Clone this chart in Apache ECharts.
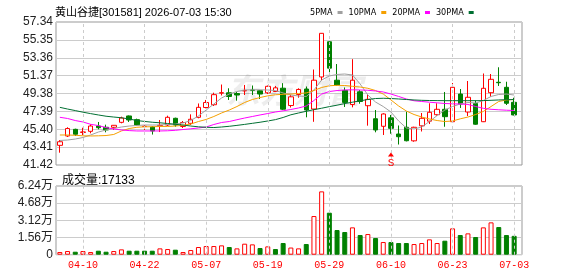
<!DOCTYPE html>
<html lang="zh-CN" style="height: 100%">
<head>
  <meta charset="utf-8">
</head>
<body style="height: 100%; margin: 0">
  <div id="container" style="width: 578px; height: 276px"></div>

  <script type="text/javascript" src="https://cdn.jsdelivr.net/npm/echarts@6.0.0/dist/echarts.min.js"></script>

  <script>
    // 日K数据 (黄山谷捷 301581)
    var dates = ['04-07','04-08','04-09','04-10','04-13','04-14','04-15','04-16','04-17','04-20',
      '04-21','04-22','04-23','04-24','04-27','04-28','04-29','04-30','05-06','05-07',
      '05-08','05-11','05-12','05-13','05-14','05-15','05-18','05-19','05-20','05-21',
      '05-22','05-25','05-26','05-27','05-28','05-29','06-01','06-02','06-03','06-04',
      '06-05','06-08','06-09','06-10','06-11','06-12','06-15','06-16','06-17','06-18',
      '06-22','06-23','06-24','06-25','06-26','06-29','06-30','07-01','07-02','07-03'];

    var openP = [43.61,44.65,45.39,45.05,45.17,45.76,45.62,45.62,46.17,46.88,
      46.47,45.70,45.65,45.80,45.87,46.62,45.71,46.06,46.73,47.82,
      48.13,49.42,49.46,49.38,49.67,49.76,49.69,49.46,49.60,49.97,
      48.04,49.27,49.88,47.65,51.22,55.14,50.86,49.72,48.15,49.57,
      48.02,46.57,45.73,46.67,44.87,45.62,44.11,45.78,46.30,47.02,
      47.62,46.24,49.32,47.32,48.26,46.24,49.47,50.63,50.07,48.40];
    var closeP = [44.01,45.48,44.84,45.10,45.76,45.57,45.32,45.84,46.65,46.43,
      45.88,45.74,45.21,45.84,46.73,45.87,46.15,46.51,47.84,48.38,
      49.25,49.47,49.05,49.21,49.72,49.73,49.32,50.18,50.01,47.63,
      49.01,49.83,47.54,50.86,56.08,52.20,50.33,48.39,50.86,48.49,
      48.73,45.32,47.10,45.50,44.57,44.12,45.62,46.62,47.29,47.62,
      46.80,50.07,48.21,48.96,45.96,49.96,50.96,50.58,48.29,46.99];
    var lowP = [42.79,44.54,44.65,44.76,44.95,45.39,45.06,45.32,46.06,46.21,
      45.80,45.32,44.81,45.09,45.76,45.68,45.54,45.87,46.62,47.73,
      47.99,49.16,48.66,48.58,49.21,49.21,48.77,49.32,49.55,47.54,
      47.82,48.91,46.73,46.23,50.83,51.46,50.25,47.88,47.84,48.24,
      45.80,45.06,44.76,44.90,43.70,44.05,44.01,45.15,45.98,46.90,
      45.68,46.20,47.77,46.87,45.90,46.20,49.02,50.22,48.10,46.95];
    var highP = [44.20,45.62,45.46,45.57,45.95,46.21,45.91,45.87,46.80,46.93,
      46.58,45.87,45.73,46.43,46.91,46.69,46.32,47.06,48.27,48.66,
      49.47,50.38,49.96,49.55,50.33,50.27,49.77,50.27,50.22,50.53,
      49.23,49.96,50.16,52.05,56.10,55.17,52.66,50.05,53.20,49.77,
      49.21,47.54,47.18,46.99,45.82,47.35,45.68,47.21,48.29,48.29,
      49.55,50.55,49.88,50.77,48.62,51.61,51.55,52.30,50.69,48.91];

    var volumes = [2420,3330,2720,3330,2420,3630,2720,3330,4840,3630,
      3630,3630,3630,5750,5140,4540,2420,4240,6970,7870,
      7870,8480,6970,5750,9990,9390,6060,7570,5140,10600,
      6500,5750,9690,35120,57520,38150,22400,20590,24830,17860,
      18770,15140,11500,11500,10600,10600,9690,10600,13930,10600,
      12720,23920,17860,19380,16050,24830,29370,25130,17860,17133];

    var ma5 = [44.15,44.20,44.31,44.48,44.76,45.09,45.32,45.48,45.65,45.76,
      45.82,45.87,45.87,45.87,45.93,45.98,46.10,46.37,46.88,47.54,
      48.21,48.88,49.32,49.60,49.77,49.79,49.79,49.77,49.71,49.44,
      49.21,49.10,49.05,49.77,50.88,51.33,51.50,51.55,51.44,50.44,
      49.21,48.43,47.93,47.32,46.32,45.54,45.43,45.65,46.26,46.93,
      47.54,47.93,48.21,48.38,48.32,48.60,49.05,49.27,49.32,49.21];
    var ma10 = [44.76,44.76,44.73,44.67,44.65,44.67,44.70,44.82,45.21,45.48,
      45.62,45.67,45.68,45.71,45.71,45.76,45.84,45.98,46.26,46.49,
      46.82,47.21,47.54,47.93,48.38,48.71,48.93,49.12,49.24,49.29,
      49.32,49.38,49.44,49.71,50.05,50.24,50.29,50.27,50.18,50.10,
      49.96,49.71,49.32,48.66,47.99,47.43,47.04,46.76,46.54,46.37,
      46.26,46.32,46.56,46.76,47.04,47.38,47.93,48.49,48.66,48.71];
    var ma20 = [46.73,46.60,46.37,46.21,45.95,45.81,45.59,45.43,45.32,45.25,
      45.21,45.21,45.21,45.21,45.23,45.28,45.37,45.45,45.54,45.65,
      45.93,46.15,46.26,46.46,46.65,46.82,46.99,47.15,47.32,47.45,
      47.60,47.77,47.99,48.60,49.32,49.60,49.71,49.77,49.79,49.77,
      49.74,49.66,49.55,49.32,49.05,48.77,48.57,48.49,48.41,48.34,
      48.27,48.23,48.21,48.16,47.93,47.73,47.62,47.57,47.52,47.49];
    var ma30 = [47.84,47.65,47.48,47.30,47.14,46.99,46.85,46.76,46.68,46.54,
      46.37,46.27,46.18,46.12,46.04,45.95,45.87,45.76,45.67,45.62,
      45.59,45.65,45.73,45.83,45.94,46.06,46.18,46.32,46.47,46.71,
      47.01,47.21,47.40,47.58,47.74,47.92,48.08,48.26,48.41,48.57,
      48.71,48.82,48.85,48.82,48.77,48.71,48.66,48.62,48.60,48.59,
      48.58,48.58,48.58,48.58,48.58,48.59,48.62,48.66,48.69,48.71];

    var priceTicks = ['41.42','43.41','45.40','47.39','49.38','51.37','53.36','55.35','57.34'];
    var volTicks = ['0','1.56万','3.12万','4.68万','6.24万'];
    var signals = [{ date: '06-10', price: 42.59, text: 'S' }];

    var dom = document.getElementById('container');
    var myChart = echarts.init(dom, null, { renderer: 'canvas' });

    var candleData = [];
    for (var i = 0; i < dates.length; i++) {
      candleData.push([openP[i], closeP[i], lowP[i], highP[i]]);
    }
    // 成交量颜色按收盘价与前一日比较
    var volData = volumes.map(function (v, i) {
      var prev = i > 0 ? closeP[i - 1] : openP[i];
      var up = closeP[i] >= prev;
      return {
        value: v,
        itemStyle: up
          ? { color: '#ffffff', borderColor: '#ff0000', borderWidth: 1 }
          : { color: '#008000', borderColor: '#008000', borderWidth: 1 }
      };
    });
    var showIdx = function (idx) { return (idx - 3) % 8 === 0; };
    var vLines = dates.filter(function (d, i) { return showIdx(i); })
      .map(function (d) { return { xAxis: d }; });
    var dashLine = {
      silent: true,
      symbol: ['none', 'none'],
      label: { show: false },
      lineStyle: { color: '#cccccc', type: [3, 3], width: 1 },
      emphasis: { disabled: true },
      animation: false,
      data: vLines
    };

    var labelFont = { color: '#222', fontSize: 12, fontFamily: "'Liberation Sans', Arial, 'Noto Sans CJK SC'" };

    var option = {
      animation: false,
      title: [
        {
          text: '黄山谷捷[301581] 2026-07-03 15:30',
          left: 50, top: 2,
          textStyle: { fontSize: 11, fontWeight: 'normal', color: '#000', fontFamily: "'Liberation Sans', Arial, 'Noto Sans CJK SC'" }
        },
        {
          text: '成交量:' + volumes[volumes.length - 1],
          left: 57, top: 170,
          textStyle: { fontSize: 12, fontWeight: 'normal', color: '#000', fontFamily: "'Liberation Sans', Arial, 'Noto Sans CJK SC'" }
        }
      ],
      legend: {
        data: ['5PMA', '10PMA', '20PMA', '30PMA'],
        left: 305, top: 3,
        icon: 'rect',
        itemWidth: 5, itemHeight: 3,
        itemGap: 6,
        align: 'right',
        selectedMode: false,
        textStyle: { fontSize: 9, color: '#000', fontFamily: "'DejaVu Sans Condensed', 'Liberation Sans Narrow', 'Liberation Sans'" }
      },
      graphic: [
        {
          type: 'text', left: 226, top: 73, z: 1, silent: true,
          style: { text: '东方财富', fontSize: 34, fontWeight: 'bold', fontStyle: 'italic', fill: 'rgba(0,0,0,0.07)', fontFamily: 'Noto Sans CJK SC' }
        }
      ],
      grid: [
        { left: 56, top: 22, width: 466, height: 143, show: true, borderColor: '#999', borderWidth: 1 },
        { left: 56, top: 22, width: 462, height: 143 },
        { left: 56, top: 186, width: 466, height: 68.7, show: true, borderColor: '#999', borderWidth: 1 },
        { left: 56, top: 186, width: 462, height: 68.7 }
      ],
      xAxis: [
        { type: 'value', gridIndex: 0, min: 0, max: 1, show: false },
        { type: 'category', gridIndex: 1, data: dates, boundaryGap: true,
          axisLine: { show: false }, axisTick: { show: false }, axisLabel: { show: false }, splitLine: { show: false } },
        { type: 'value', gridIndex: 2, min: 0, max: 1, show: false },
        { type: 'category', gridIndex: 3, data: dates, boundaryGap: true,
          axisLine: { show: false }, axisTick: { show: false }, splitLine: { show: false },
          axisLabel: { interval: showIdx, color: '#ff0000', fontSize: 10, margin: 6, fontFamily: "'Liberation Mono', 'DejaVu Sans Mono', monospace" } }
      ],
      yAxis: [
        { type: 'value', gridIndex: 0, min: 0, max: 8, interval: 1,
          axisLine: { show: false }, axisTick: { show: false },
          axisLabel: Object.assign({ margin: 3, formatter: function (v) { return priceTicks[v]; } }, labelFont),
          splitLine: { lineStyle: { color: '#cccccc', width: 1 } } },
        { type: 'value', gridIndex: 1, min: 41.42, max: 57.34, show: false },
        { type: 'value', gridIndex: 2, min: 0, max: 4, interval: 1,
          axisLine: { show: false }, axisTick: { show: false },
          axisLabel: Object.assign({ margin: 3, formatter: function (v) { return volTicks[v]; } }, labelFont),
          splitLine: { lineStyle: { color: '#cccccc', width: 1 } } },
        { type: 'value', gridIndex: 3, min: 0, max: 62400, show: false }
      ],
      series: [
        { type: 'line', xAxisIndex: 1, yAxisIndex: 1, data: [], z: 1, markLine: dashLine },
        {
          type: 'candlestick', name: 'K', xAxisIndex: 1, yAxisIndex: 1, z: 3,
          barWidth: 5,
          data: candleData,
          itemStyle: { color: '#ffffff', color0: '#008000', borderColor: '#ff0000', borderColor0: '#008000', borderWidth: 1 },
          markPoint: {
            silent: true,
            symbol: 'triangle', symbolSize: [6, 4],
            itemStyle: { color: '#ff0000' },
            label: { show: true, position: 'bottom', distance: 1, color: '#ff0000', fontSize: 11, fontFamily: "'Liberation Mono', monospace",
              formatter: function (p) { return p.data.text; } },
            data: signals.map(function (s) { return { coord: [s.date, s.price], text: s.text }; })
          }
        },
        { type: 'line', name: '5PMA', xAxisIndex: 1, yAxisIndex: 1, data: ma5, symbol: 'none', z: 4,
          color: '#a0a0a0', lineStyle: { width: 1, color: '#a0a0a0' } },
        { type: 'line', name: '10PMA', xAxisIndex: 1, yAxisIndex: 1, data: ma10, symbol: 'none', z: 4,
          color: '#f5a000', lineStyle: { width: 1, color: '#f5a000' } },
        { type: 'line', name: '20PMA', xAxisIndex: 1, yAxisIndex: 1, data: ma20, symbol: 'none', z: 4,
          color: '#ff00ff', lineStyle: { width: 1, color: '#ff00ff' } },
        { type: 'line', name: '30PMA', xAxisIndex: 1, yAxisIndex: 1, data: ma30, symbol: 'none', z: 4,
          color: '#006f32', lineStyle: { width: 1, color: '#006f32' } },
        { type: 'line', xAxisIndex: 3, yAxisIndex: 3, data: [], z: 1, markLine: dashLine },
        { type: 'bar', name: 'VOL', xAxisIndex: 3, yAxisIndex: 3, barWidth: 5, z: 3, data: volData }
      ]
    };

    myChart.setOption(option);
    window.addEventListener('resize', myChart.resize);
  </script>
</body>
</html>
